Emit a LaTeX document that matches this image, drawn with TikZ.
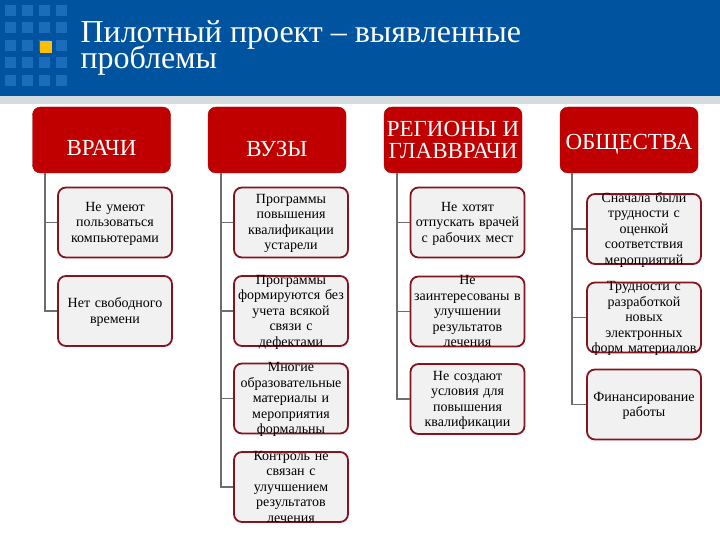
\documentclass[tikz,border=0pt]{standalone}
\usepackage{fontspec}
\setmainfont{Liberation Serif}
\usetikzlibrary{positioning}

\definecolor{banner}{RGB}{0,84,159}
\definecolor{tile}{RGB}{28,108,188}
\definecolor{gold}{RGB}{250,192,0}
\definecolor{strip}{RGB}{212,220,224}
\definecolor{hdrred}{RGB}{192,0,0}
\definecolor{boxedge}{RGB}{132,20,32}
\definecolor{boxfill}{RGB}{241,241,241}
\definecolor{wire}{RGB}{110,110,110}

\begin{document}
\begin{tikzpicture}[
  x=1pt,y=-1pt,
  head/.style={draw=hdrred!85!black,fill=hdrred,rounded corners=8pt,minimum width=138pt,minimum height=66pt,
    text=white,align=center,inner sep=2pt,font=\fontsize{23}{22}\selectfont},
  lower/.style={text height=#1,text depth=0pt},
  item/.style={draw=boxedge,line width=1.8pt,fill=boxfill,rounded corners=8pt,align=center,
    text width=110pt,inner xsep=2pt,inner ysep=0pt,font=\fontsize{14}{15.5}\selectfont,
    text height=\dimexpr 47pt-7.75pt*#1\relax,text depth=\dimexpr 23pt+7.75pt*#1\relax},
  wire/.style={draw=wire,line width=1.8pt}
]
  \useasboundingbox (0,0) rectangle (720,540);

  % title band
  \fill[banner] (0,0) rectangle (720,96);
  \fill[strip] (0,96) rectangle (720,104);
  \foreach \i in {0,...,3}
    \foreach \j in {0,...,4}
      \fill[tile] (5+17*\i,5+17.5*\j) rectangle ++(11,11);
  \fill[gold] (40,41) rectangle ++(12,12);
  \node[anchor=base west,text=white,align=left,font={\fontsize{32}{26.5}\selectfont\setlength{\lineskiplimit}{-20pt}}] (title) at (77,69)
    {Пилотный проект – выявленные\\проблемы};

  \node[head,lower=31pt] (vr)  at (101.5,140) {ВРАЧИ};
  \node[head,lower=34pt] (vuz) at (277,140)   {ВУЗЫ};
  \node[head]            (reg) at (453,140)   {РЕГИОНЫ И\\ГЛАВВРАЧИ};
  \node[head,lower=20pt] (obs) at (629,140)   {ОБЩЕСТВА};

  \node[item=3] (vr1) at (115,222.5) {Не умеют\\пользоваться\\компьютерами};
  \node[item=2] (vr2) at (115,311)   {Нет свободного\\времени};
  \draw[wire] ([xshift=13pt]vr.south west) |- (vr1.west);
  \draw[wire] ([xshift=13pt]vr.south west) |- (vr2.west);

  \node[item=4] (vuz1) at (291,222.5) {Программы\\повышения\\квалификации\\устарели};
  \node[item=5] (vuz2) at (291,311)   {Программы\\формируются без\\учета всякой\\связи с\\дефектами};
  \node[item=5] (vuz3) at (291,398.5) {Многие\\образовательные\\материалы и\\мероприятия\\формальны};
  \node[item=5] (vuz4) at (291,487)   {Контроль не\\связан с\\улучшением\\результатов\\лечения};
  \draw[wire] ([xshift=13pt]vuz.south west) |- (vuz1.west);
  \draw[wire] ([xshift=13pt]vuz.south west) |- (vuz2.west);
  \draw[wire] ([xshift=13pt]vuz.south west) |- (vuz3.west);
  \draw[wire] ([xshift=13pt]vuz.south west) |- (vuz4.west);

  \node[item=3] (reg1) at (467.5,222.5) {Не хотят\\отпускать врачей\\с рабочих мест};
  \node[item=5] (reg2) at (467.5,311.5) {Не\\заинтересованы в\\улучшении\\результатов\\лечения};
  \node[item=4] (reg3) at (467.5,399)   {Не создают\\условия для\\повышения\\квалификации};
  \draw[wire] ([xshift=13pt]reg.south west) |- (reg1.west);
  \draw[wire] ([xshift=13pt]reg.south west) |- (reg2.west);
  \draw[wire] ([xshift=13pt]reg.south west) |- (reg3.west);

  \node[item=5] (obs1) at (644,229)   {Сначала были\\трудности с\\оценкой\\соответствия\\мероприятий};
  \node[item=5] (obs2) at (644,317.5) {Трудности с\\разработкой\\новых\\электронных\\форм материалов};
  \node[item=2] (obs3) at (644,404.5) {Финансирование\\работы};
  \draw[wire] ([xshift=12pt]obs.south west) |- (obs1.west);
  \draw[wire] ([xshift=12pt]obs.south west) |- (obs2.west);
  \draw[wire] ([xshift=12pt]obs.south west) |- (obs3.west);
\end{tikzpicture}
\end{document}
